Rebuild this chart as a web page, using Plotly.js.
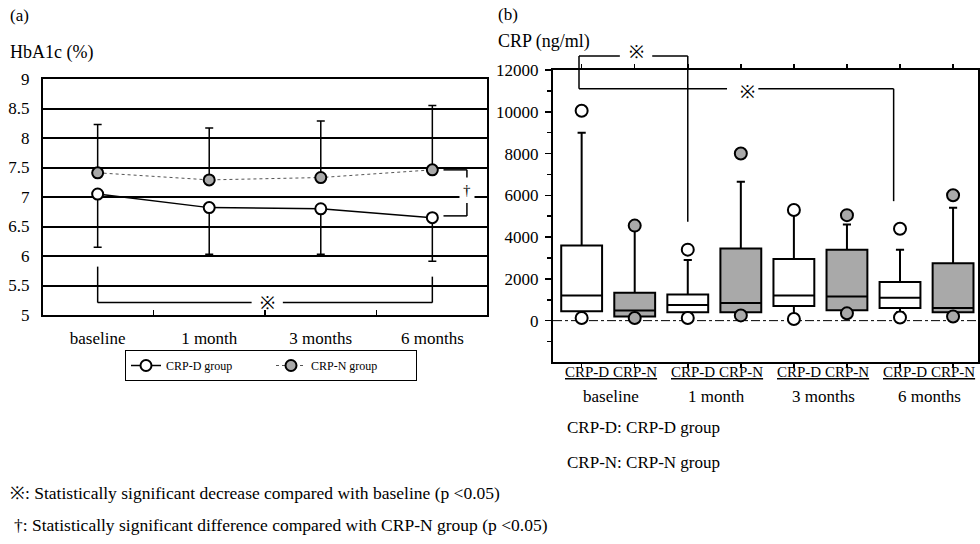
<!DOCTYPE html>
<html><head><meta charset="utf-8">
<script src="https://cdn.plot.ly/plotly-3.0.1.min.js"></script>
<style>html,body{margin:0;padding:0;background:#fff}#chart{width:980px;height:544px}</style>
</head><body><div id="chart"></div>
<script>
// ---------- Panel (a): HbA1c ----------
const timepoints = ['baseline', '1 month', '3 months', '6 months'];
const hbaD = [7.05, 6.82, 6.80, 6.65];        // CRP-D group mean
const hbaDsd = [0.90, 0.79, 0.77, 0.74];      // drawn downward
const hbaN = [7.41, 7.29, 7.33, 7.46];        // CRP-N group mean
const hbaNsd = [0.82, 0.88, 0.96, 1.09];      // drawn upward
const hbaTickVals = [5, 5.5, 6, 6.5, 7, 7.5, 8, 8.5, 9];
const hbaTickText = ['5', '5.5', '6', '6.5', '7', '7.5', '8', '8.5', '9'];

// ---------- Panel (b): CRP box plots ----------
const boxPosD = [0, 2, 4, 6];
const boxPosN = [1, 3, 5, 7];
const crpD_q1 = [450, 400, 700, 600];
const crpD_med = [1200, 750, 1200, 1100];
const crpD_q3 = [3600, 1250, 2950, 1850];
const crpD_lo = [200, 200, 300, 400];
const crpD_hi = [9000, 2900, 5100, 3400];
const crpN_q1 = [200, 400, 500, 400];
const crpN_med = [480, 850, 1150, 600];
const crpN_q3 = [1330, 3450, 3400, 2750];
const crpN_lo = [150, 300, 400, 300];
const crpN_hi = [4350, 6650, 4600, 5400];
const outD_x = [0, 0, 2, 2, 4, 4, 6, 6];
const outD_y = [10050, 130, 3400, 130, 5300, 80, 4400, 150];
const outN_x = [1, 1, 3, 3, 5, 5, 7, 7];
const outN_y = [4550, 130, 8000, 250, 5050, 350, 6000, 200];
const crpTickVals = [0, 2000, 4000, 6000, 8000, 10000, 12000];
const crpTickText = ['0', '2000', '4000', '6000', '8000', '10000', '12000'];
const crpMinorVals = [-1000, 1000, 3000, 5000, 7000, 9000, 11000];
const pairLabels = ['baseline', '1 month', '3 months', '6 months'];

const W = 980, H = 544;
const FONT = "'Liberation Serif', 'Times New Roman', serif";
const px = v => v / W;
const py = v => 1 - v / H;

const domAx = [px(43), px(487)], domAy = [py(315), py(79)];
const domBx = [px(553), px(978)], domBy = [py(362), py(70)];
const rangeBy = [-1980, 12000];
const yB = v => domBy[0] + (v - rangeBy[0]) / (rangeBy[1] - rangeBy[0]) * (domBy[1] - domBy[0]);

const GRAY = '#a9a9a9';

const traces = [
  {
    x: timepoints, y: hbaD, xaxis: 'x', yaxis: 'y', type: 'scatter', mode: 'lines+markers',
    name: 'CRP-D group',
    line: {color: '#000', width: 1.5},
    marker: {size: 11, color: '#fff', line: {color: '#000', width: 2}},
    error_y: {type: 'data', symmetric: false, array: [0, 0, 0, 0], arrayminus: hbaDsd,
              color: '#000', thickness: 1.5, width: 4}
  },
  {
    x: timepoints, y: hbaN, xaxis: 'x', yaxis: 'y', type: 'scatter', mode: 'lines+markers',
    name: 'CRP-N group',
    line: {color: '#555', width: 1, dash: 'dot'},
    marker: {size: 11, color: GRAY, line: {color: '#000', width: 2}},
    error_y: {type: 'data', symmetric: false, array: hbaNsd, arrayminus: [0, 0, 0, 0],
              color: '#000', thickness: 1.5, width: 4}
  },
  {
    type: 'box', xaxis: 'x2', yaxis: 'y2', x: boxPosD, showlegend: false,
    q1: crpD_q1, median: crpD_med, q3: crpD_q3, lowerfence: crpD_lo, upperfence: crpD_hi,
    boxpoints: false, width: 0.77, whiskerwidth: 0.2, fillcolor: '#fff',
    line: {color: '#000', width: 2}, hoverinfo: 'skip'
  },
  {
    type: 'box', xaxis: 'x2', yaxis: 'y2', x: boxPosN, showlegend: false,
    q1: crpN_q1, median: crpN_med, q3: crpN_q3, lowerfence: crpN_lo, upperfence: crpN_hi,
    boxpoints: false, width: 0.77, whiskerwidth: 0.2, fillcolor: GRAY,
    line: {color: '#000', width: 2}, hoverinfo: 'skip'
  },
  {
    type: 'scatter', mode: 'markers', xaxis: 'x2', yaxis: 'y2', x: outD_x, y: outD_y, showlegend: false,
    marker: {size: 12, color: '#fff', line: {color: '#000', width: 2}}, cliponaxis: false
  },
  {
    type: 'scatter', mode: 'markers', xaxis: 'x2', yaxis: 'y2', x: outN_x, y: outN_y, showlegend: false,
    marker: {size: 12, color: GRAY, line: {color: '#000', width: 2}}, cliponaxis: false
  }
];

const blk = {color: '#000', width: 1.5};
function seg(xref, yref, x0, y0, x1, y1, extra) {
  return Object.assign({type: 'line', xref, yref, x0, y0, x1, y1, line: blk, layer: 'above'}, extra || {});
}

const shapes = [
  // significance bracket panel (a)
  seg('x', 'y', 0, 5.82, 0, 5.21), seg('x', 'y', 0, 5.21, 1.38, 5.21),
  seg('x', 'y', 1.66, 5.21, 3, 5.21), seg('x', 'y', 3, 5.21, 3, 5.65),
  // dagger bracket panel (a)
  seg('x', 'y', 3.10, 7.46, 3.31, 7.46), seg('x', 'y', 3.31, 7.46, 3.31, 7.33),
  seg('x', 'y', 3.31, 6.90, 3.31, 6.68), seg('x', 'y', 3.10, 6.68, 3.31, 6.68),
  // zero dash-dot line panel (b)
  {type: 'line', xref: 'x2 domain', yref: 'y2', x0: 0, x1: 1, y0: 0, y1: 0,
   line: {color: '#000', width: 1, dash: 'dashdot'}, layer: 'below'},
  // bracket 1 panel (b)
  seg('x2', 'paper', -0.05, yB(12670), -0.05, yB(11100)),
  seg('x2', 'paper', -0.05, yB(12670), 0.72, yB(12670)),
  seg('x2', 'paper', 1.33, yB(12670), 2, yB(12670)),
  seg('x2', 'paper', 2, yB(12670), 2, yB(4730)),
  // bracket 2 panel (b)
  seg('x2', 'paper', -0.05, yB(11100), 2.74, yB(11100)),
  seg('x2', 'paper', 3.33, yB(11100), 5.88, yB(11100)),
  seg('x2', 'paper', 5.88, yB(11100), 5.88, yB(5720))
];

const ann = (text, x, y, opts) => Object.assign({
  text, x, y, xref: 'paper', yref: 'paper', showarrow: false,
  xanchor: 'left', yanchor: 'middle', font: {family: FONT, size: 17, color: '#000'}
}, opts || {});

const annotations = [
  ann('(a)', px(8), py(15)),
  ann('HbA1c (%)', px(8), py(52), {font: {family: FONT, size: 18, color: '#000'}}),
  ann('(b)', px(496), py(14)),
  ann('CRP (ng/ml)', px(496), py(42), {font: {family: FONT, size: 18, color: '#000'}}),
  ann('※', 1.52, 5.2, {xref: 'x', yref: 'y', xanchor: 'center', font: {family: FONT, size: 18, color: '#000'}}),
  ann('†', 3.31, 7.12, {xref: 'x', yref: 'y', xanchor: 'center', bgcolor: '#fff', borderpad: 3,
                        font: {family: FONT, size: 15, color: '#000'}}),
  ann('※', 1.03, yB(12850), {xref: 'x2', xanchor: 'center', font: {family: FONT, size: 18, color: '#000'}}),
  ann('※', 3.12, yB(10950), {xref: 'x2', xanchor: 'center', font: {family: FONT, size: 18, color: '#000'}}),
  ann('CRP-D: CRP-D group', px(565), py(427)),
  ann('CRP-N: CRP-N group', px(565), py(462)),
  ann('※: Statistically significant decrease compared with baseline (p <0.05)', px(8), py(493), {font: {family: FONT, size: 17.5, color: '#000'}}),
  ann('†: Statistically significant difference compared with CRP-N group (p <0.05)', px(12), py(525), {font: {family: FONT, size: 17.5, color: '#000'}})
];
pairLabels.forEach((lab, i) => {
  const cx = boxPosD[i] + 0.55;
  annotations.push(ann('<u>CRP-D&nbsp;CRP-N</u>', cx, py(372), {xref: 'x2', xanchor: 'center', font: {family: FONT, size: 15, color: '#000'}}));
  annotations.push(ann(lab, cx, py(396), {xref: 'x2', xanchor: 'center'}));
});

const layout = {
  width: W, height: H,
  margin: {l: 0, r: 0, t: 0, b: 0},
  paper_bgcolor: '#fff', plot_bgcolor: '#fff',
  font: {family: FONT, size: 17, color: '#000'},
  showlegend: true,
  boxmode: 'overlay',
  legend: {
    orientation: 'h', x: px(125), y: py(350), xanchor: 'left', yanchor: 'top',
    bordercolor: '#000', borderwidth: 1, bgcolor: '#fff',
    font: {family: FONT, size: 12, color: '#000'}, itemwidth: 30, entrywidth: 100
  },
  xaxis: {
    domain: domAx, anchor: 'y', type: 'category', categoryarray: timepoints,
    range: [-0.49, 3.49], showgrid: false, zeroline: false,
    showline: true, linecolor: '#000', linewidth: 2, mirror: true,
    ticks: 'inside', tickson: 'boundaries', ticklen: 5, tickwidth: 1.5, tickcolor: '#000',
    tickfont: {family: FONT, size: 17}, ticklabelstandoff: 7
  },
  yaxis: {
    domain: domAy, anchor: 'x', range: [5, 9],
    tickmode: 'array', tickvals: hbaTickVals, ticktext: hbaTickText,
    showgrid: true, gridcolor: '#000', gridwidth: 2, zeroline: false,
    showline: true, linecolor: '#000', linewidth: 2, mirror: true,
    ticks: '', tickfont: {family: FONT, size: 17}, ticklabelstandoff: 8
  },
  xaxis2: {
    domain: domBx, anchor: 'y2', range: [-0.54, 7.47],
    tickmode: 'array', tickvals: boxPosD.concat(boxPosN), ticktext: ['', '', '', '', '', '', '', ''],
    showgrid: false, zeroline: false,
    showline: true, linecolor: '#000', linewidth: 2, mirror: 'ticks',
    ticks: 'outside', ticklen: 4, tickwidth: 1.5, tickcolor: '#000'
  },
  yaxis2: {
    domain: domBy, anchor: 'x2', range: rangeBy,
    tickmode: 'array', tickvals: crpTickVals, ticktext: crpTickText,
    minor: {tickmode: 'array', tickvals: crpMinorVals, ticks: 'outside', ticklen: 4, tickwidth: 1.5, tickcolor: '#000', showgrid: false},
    showgrid: false, zeroline: false,
    showline: true, linecolor: '#000', linewidth: 2, mirror: true,
    ticks: 'outside', ticklen: 6, tickwidth: 1.5, tickcolor: '#000',
    tickfont: {family: FONT, size: 17}, ticklabelstandoff: 3
  },
  shapes, annotations
};

Plotly.newPlot('chart', traces, layout, {displayModeBar: false, staticPlot: true});
</script>
</body></html>
